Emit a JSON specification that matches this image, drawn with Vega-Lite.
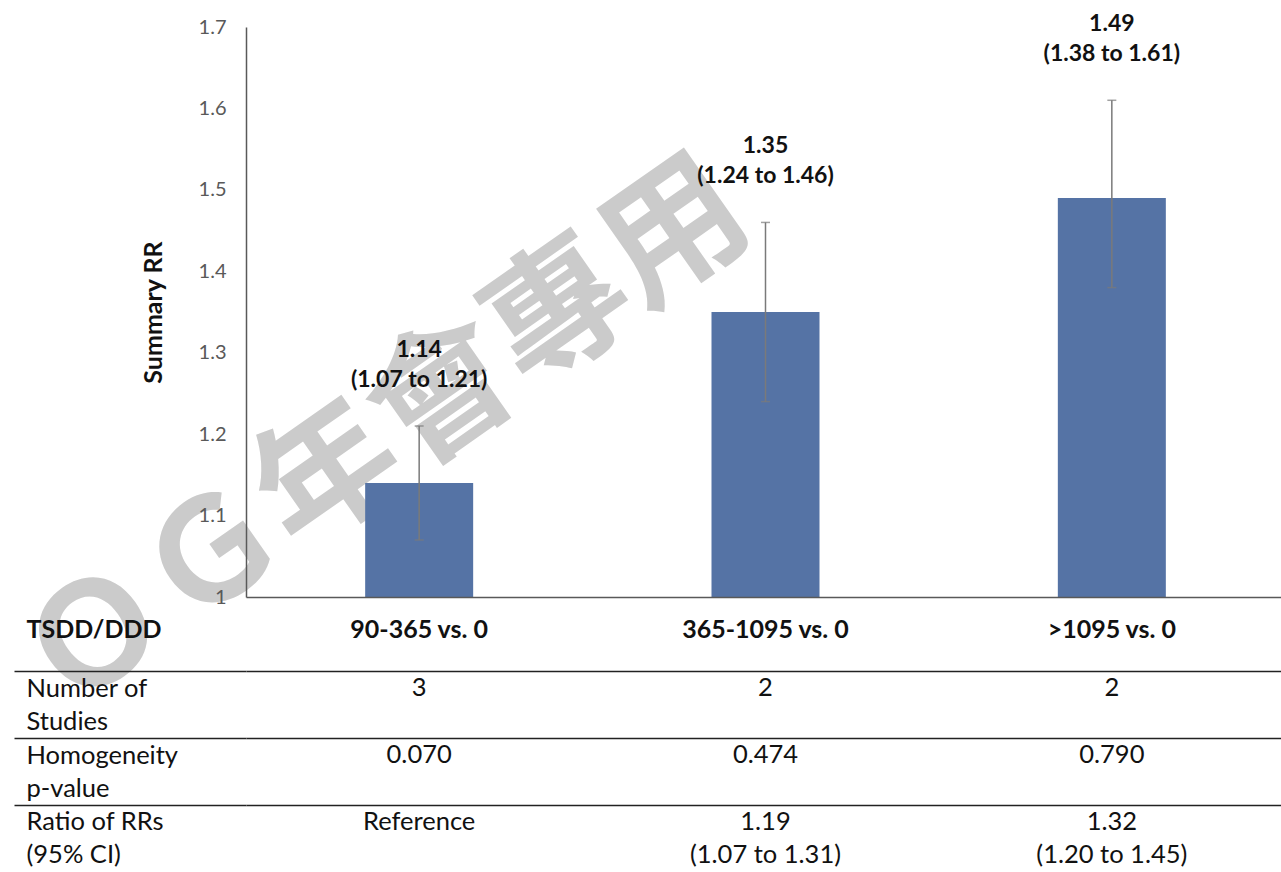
{
  "$schema": "https://vega.github.io/schema/vega-lite/v6.json",
  "background": "white",
  "padding": {"left": 0, "top": 13, "right": 0, "bottom": 0},
  "bounds": "flush",
  "spacing": 41,
  "config": {
    "view": {"stroke": null},
    "font": "Lato"
  },
  "datasets": {
    "summary": [
      {"dose": "90-365 vs. 0", "rr": 1.14, "lo": 1.07, "hi": 1.21},
      {"dose": "365-1095 vs. 0", "rr": 1.35, "lo": 1.24, "hi": 1.46},
      {"dose": ">1095 vs. 0", "rr": 1.49, "lo": 1.38, "hi": 1.61}
    ],
    "table": [
      {"dose": "90-365 vs. 0", "row": "Number of\nStudies", "text": "3"},
      {"dose": "90-365 vs. 0", "row": "Homogeneity\np-value", "text": "0.070"},
      {"dose": "90-365 vs. 0", "row": "Ratio of RRs\n(95% CI)", "text": "Reference"},
      {"dose": "365-1095 vs. 0", "row": "Number of\nStudies", "text": "2"},
      {"dose": "365-1095 vs. 0", "row": "Homogeneity\np-value", "text": "0.474"},
      {"dose": "365-1095 vs. 0", "row": "Ratio of RRs\n(95% CI)", "text": "1.19\n(1.07 to 1.31)"},
      {"dose": ">1095 vs. 0", "row": "Number of\nStudies", "text": "2"},
      {"dose": ">1095 vs. 0", "row": "Homogeneity\np-value", "text": "0.790"},
      {"dose": ">1095 vs. 0", "row": "Ratio of RRs\n(95% CI)", "text": "1.32\n(1.20 to 1.45)"}
    ]
  },
  "vconcat": [
    {
      "width": 1039,
      "height": 570,
      "data": {"name": "summary"},
      "encoding": {
        "x": {
          "field": "dose",
          "type": "nominal",
          "sort": null,
          "scale": {"paddingInner": 0, "paddingOuter": 0},
          "axis": {
            "zindex": 1,
            "title": "TSDD/DDD",
            "titleX": -220,
            "titleY": 20,
            "titleAlign": "left",
            "titleBaseline": "top",
            "titleFontSize": 25,
            "titleFontWeight": "bold",
            "titleColor": "#111111",
            "labelAngle": 0,
            "labelFontSize": 25,
            "labelFontWeight": "bold",
            "labelColor": "#111111",
            "labelPadding": 20,
            "ticks": false,
            "domainColor": "#595959",
            "domainWidth": 1.5
          }
        }
      },
      "layer": [
        {
          "data": {"values": [{"stamp": "ＯＧ年會專用"}]},
          "mark": {
            "type": "text",
            "font": "Noto Sans CJK TC",
            "fontSize": 141,
            "fontWeight": "bold",
            "angle": 325,
            "color": "#cbcbcb",
            "align": "center",
            "baseline": "middle"
          },
          "encoding": {
            "x": {"datum": "90-365 vs. 0", "bandPosition": 0.41},
            "y": {"datum": 1.195},
            "text": {"field": "stamp"}
          }
        },
        {
          "mark": {"type": "bar", "size": 108, "color": "#5573a5"},
          "encoding": {
            "y": {
              "field": "rr",
              "type": "quantitative",
              "title": "Summary RR",
              "scale": {"domain": [1, 1.7], "zero": false, "nice": false},
              "axis": {
                "zindex": 1,
                "values": [1, 1.1, 1.2, 1.3, 1.4, 1.5, 1.6, 1.7],
                "format": "~g",
                "grid": false,
                "ticks": false,
                "labelFontSize": 20,
                "labelColor": "#595959",
                "labelPadding": 20,
                "titleFontSize": 25,
                "titleFontWeight": "bold",
                "titleColor": "#111111",
                "titlePadding": 32,
                "domainColor": "#595959",
                "domainWidth": 1.5
              }
            },
            "y2": {"datum": 1}
          }
        },
        {
          "mark": {"type": "rule", "color": "#7a7a7a", "strokeWidth": 1.5},
          "encoding": {
            "y": {"field": "lo", "type": "quantitative", "title": "Summary RR"},
            "y2": {"field": "hi"}
          }
        },
        {
          "mark": {"type": "tick", "size": 9, "thickness": 1.5, "color": "#7a7a7a"},
          "encoding": {
            "y": {"field": "hi", "type": "quantitative", "title": "Summary RR"}
          }
        },
        {
          "mark": {"type": "tick", "size": 9, "thickness": 1.5, "color": "#7a7a7a"},
          "encoding": {
            "y": {"field": "lo", "type": "quantitative", "title": "Summary RR"}
          }
        },
        {
          "transform": [
            {
              "calculate": "format(datum.rr, '.2f') + '\\n(' + format(datum.lo, '.2f') + ' to ' + format(datum.hi, '.2f') + ')'",
              "as": "label"
            }
          ],
          "mark": {
            "type": "text",
            "lineBreak": "\n",
            "baseline": "bottom",
            "dy": -64,
            "fontSize": 23,
            "fontWeight": "bold",
            "lineHeight": 30,
            "color": "#111111"
          },
          "encoding": {
            "y": {"field": "hi", "type": "quantitative", "title": "Summary RR"},
            "text": {"field": "label"}
          }
        }
      ]
    },
    {
      "width": 1039,
      "height": 200,
      "data": {"name": "table"},
      "mark": {
        "type": "text",
        "lineBreak": "\n",
        "baseline": "top",
        "dy": 5,
        "fontSize": 25.5,
        "lineHeight": 33,
        "color": "#111111"
      },
      "encoding": {
        "x": {
          "field": "dose",
          "type": "nominal",
          "sort": null,
          "scale": {"paddingInner": 0, "paddingOuter": 0},
          "axis": null
        },
        "y": {
          "field": "row",
          "type": "nominal",
          "sort": null,
          "bandPosition": 0,
          "scale": {"paddingInner": 0, "paddingOuter": 0},
          "axis": {
            "title": null,
            "bandPosition": 0,
            "domain": false,
            "tickSize": 232,
            "tickColor": "#222222",
            "tickWidth": 1.5,
            "grid": true,
            "gridColor": "#222222",
            "gridWidth": 1.5,
            "labelExpr": "split(datum.value, '\\n')",
            "labelAlign": "left",
            "labelBaseline": "top",
            "labelPadding": -12,
            "labelOffset": 5,
            "labelOverlap": false,
            "labelFontSize": 25.5,
            "labelLineHeight": 33,
            "labelColor": "#111111"
          }
        },
        "text": {"field": "text"}
      }
    }
  ]
}
